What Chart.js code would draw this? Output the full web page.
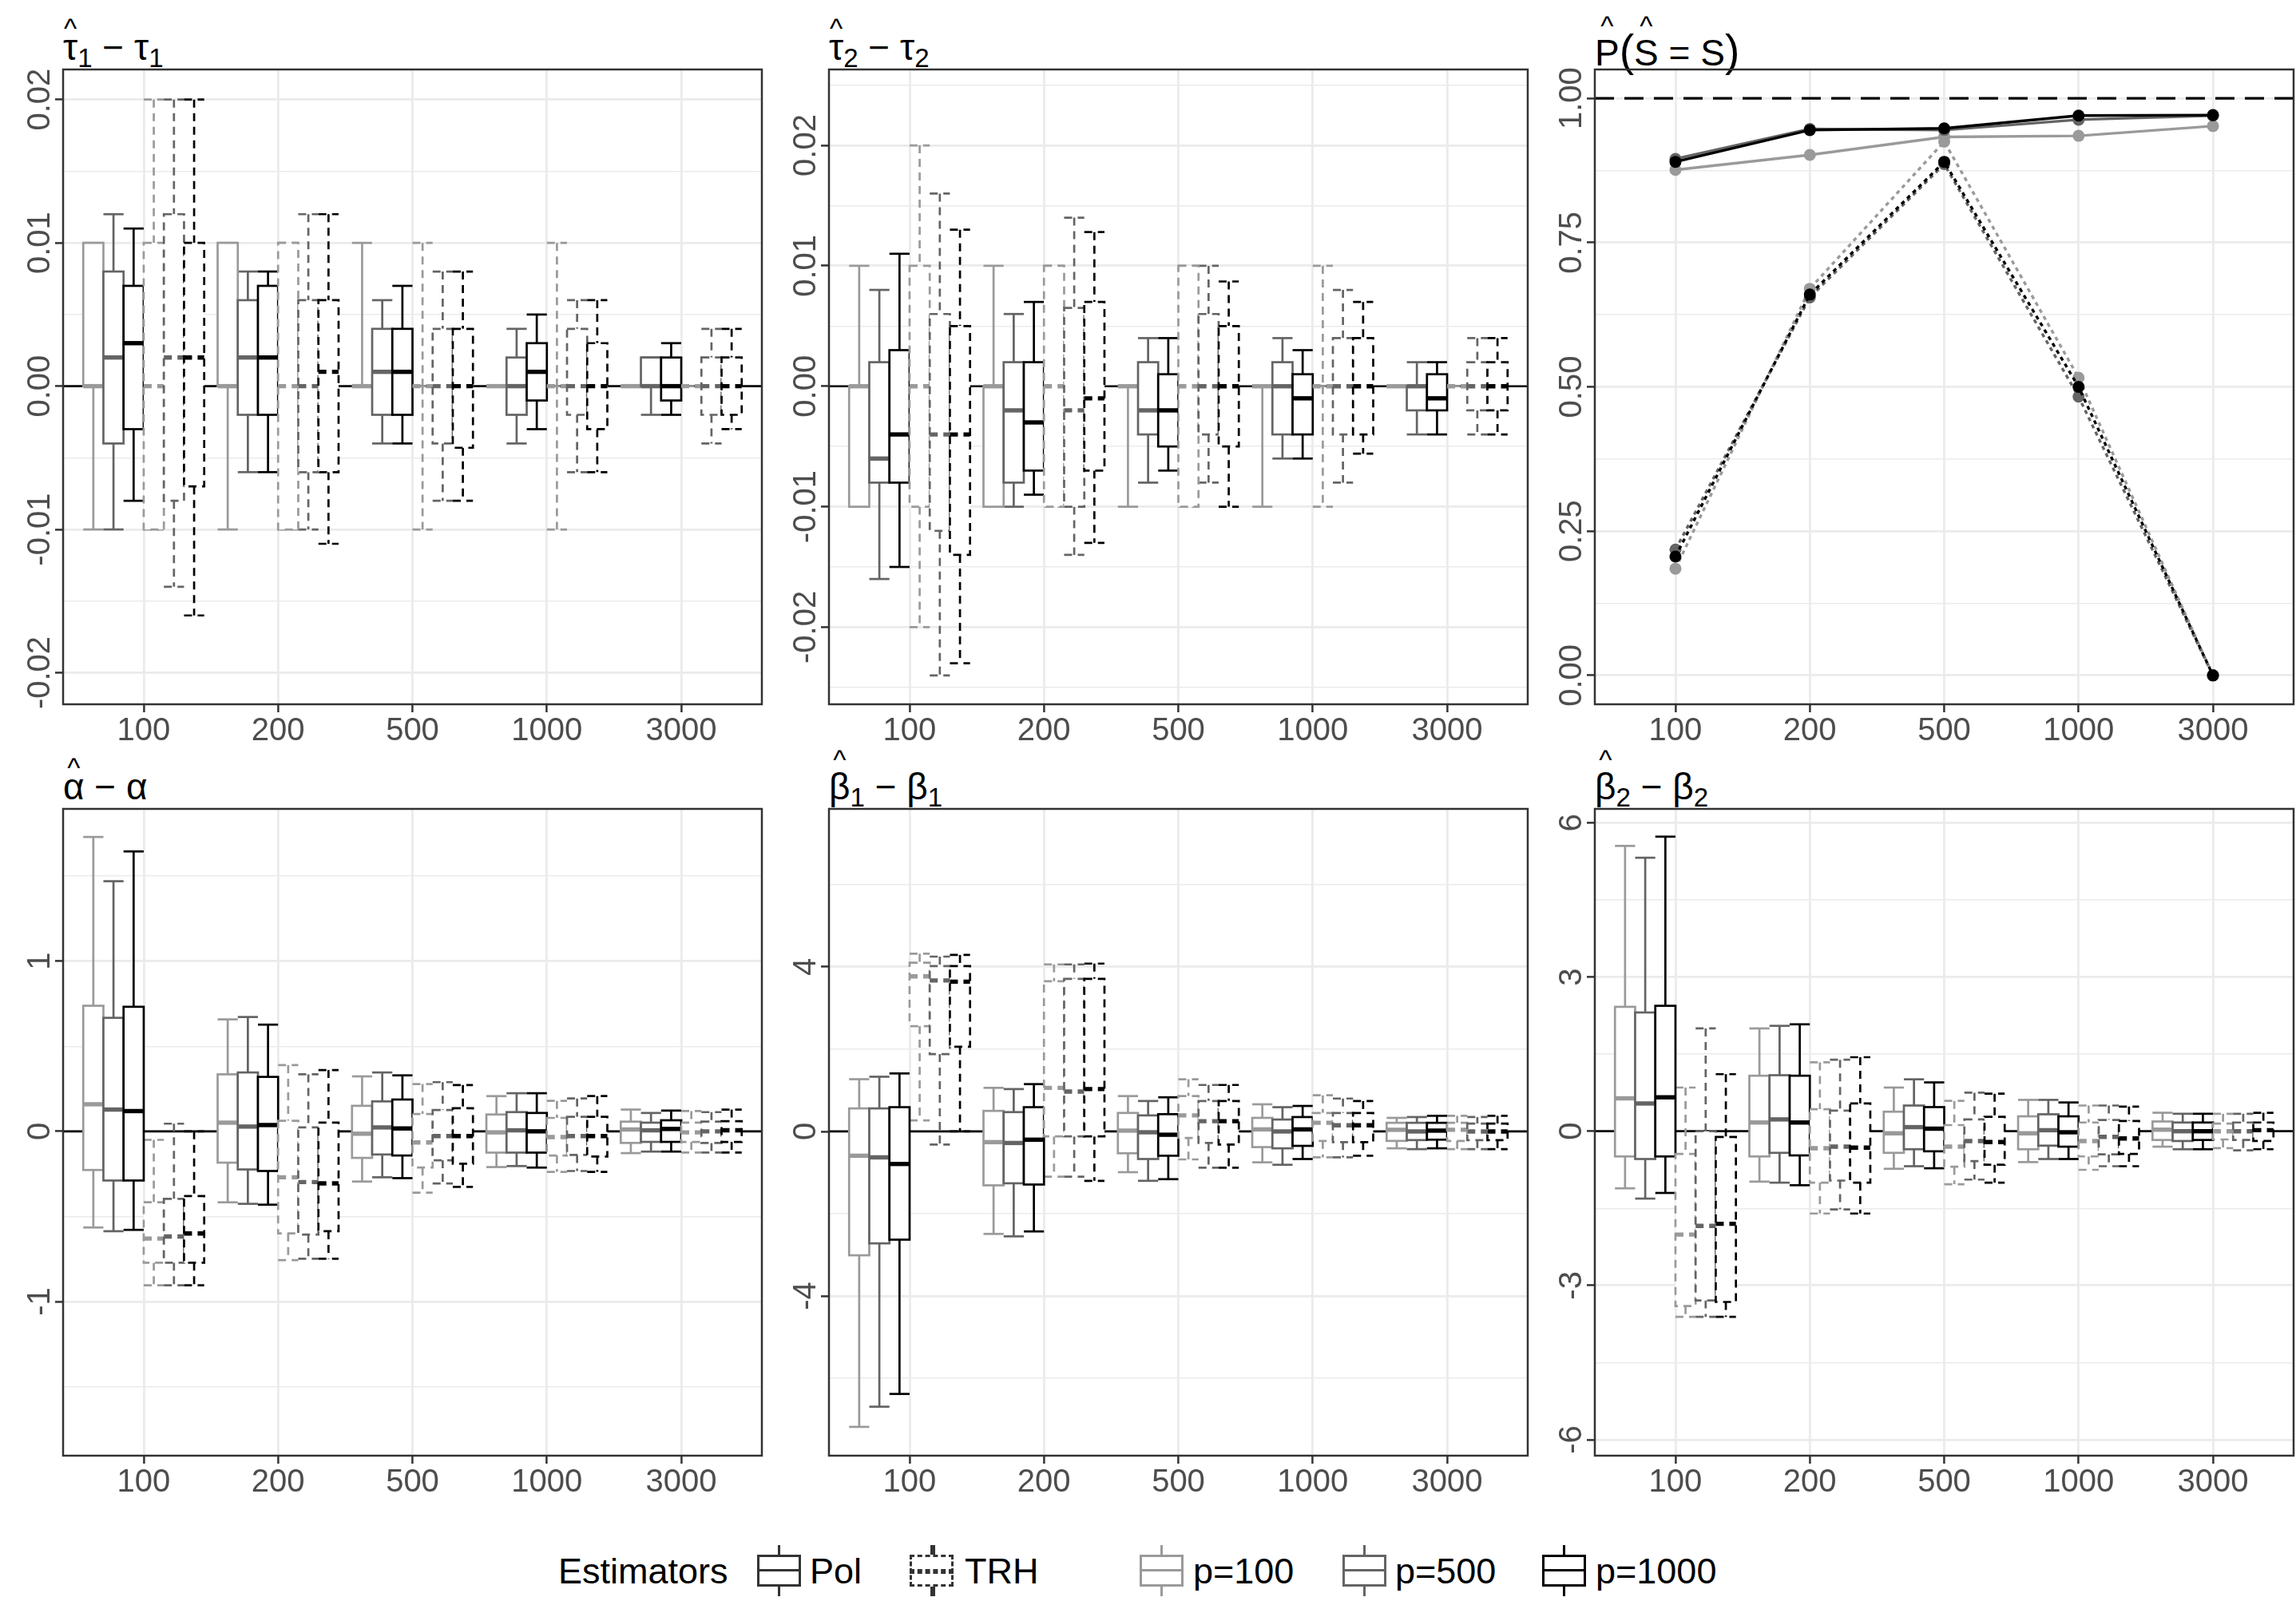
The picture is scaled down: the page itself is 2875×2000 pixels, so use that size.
<!DOCTYPE html>
<html>
<head>
<meta charset="utf-8">
<script src="https://cdn.jsdelivr.net/npm/chart.js@4.4.0/dist/chart.umd.min.js"></script>
<style>
  body { margin: 0; background: #fff; width: 2875px; height: 2000px; position: relative; overflow: hidden;
         font-family: "Liberation Sans", Arial, sans-serif; }
  canvas { position: absolute; }
  .ttl { position: absolute; font-size: 46px; line-height: 1; color: #000; white-space: nowrap; }
  .ttl sub { font-size: 0.72em; vertical-align: -0.28em; line-height: 0; }
  .hat { position: relative; display: inline-block; }
  .hat .cf { position: absolute; left: 0; right: 0; text-align: center; top: -0.5em; font-size: 0.75em; }
  .hat.tall .cf { top: -0.78em; }
  .big { font-size: 1.2em; font-weight: 300; }
  .lg { position: absolute; font-size: 45px; line-height: 44px; color: #000; white-space: nowrap; top: 1946px; }
  .key { position: absolute; top: 1935px; width: 55px; height: 64px; }
  .key div { position: absolute; box-sizing: border-box; }
  .key .wt { left: 26px; top: 0; width: 0; height: 12px; border-left: 3px solid; }
  .key .wb { left: 26px; top: 52px; width: 0; height: 12px; border-left: 3px solid; }
  .key .bx { left: 0; top: 12px; width: 55px; height: 40px; border: 3px solid; background: #fff; }
  .key .md { left: 0; top: 30px; width: 55px; height: 0; border-top: 3px solid; }
  .key.dash div { border-style: dashed; }
</style>
</head>
<body>

<div class="ttl" style="left:79px;top:36px"><span class="hat">τ<span class="cf">^</span></span><sub>1</sub> − τ<sub>1</sub></div>
<div class="ttl" style="left:1038px;top:36px"><span class="hat">τ<span class="cf">^</span></span><sub>2</sub> − τ<sub>2</sub></div>
<div class="ttl" style="left:1997px;top:36px"><span class="hat tall">P<span class="cf">^</span></span><span class="big">(</span><span class="hat tall">S<span class="cf">^</span></span> = S<span class="big">)</span></div>
<div class="ttl" style="left:79px;top:962px"><span class="hat">α<span class="cf">^</span></span> − α</div>
<div class="ttl" style="left:1038px;top:962px"><span class="hat tall">β<span class="cf">^</span></span><sub>1</sub> − β<sub>1</sub></div>
<div class="ttl" style="left:1997px;top:962px"><span class="hat tall">β<span class="cf">^</span></span><sub>2</sub> − β<sub>2</sub></div>

<canvas id="c1"></canvas>
<canvas id="c2"></canvas>
<canvas id="c3"></canvas>
<canvas id="c4"></canvas>
<canvas id="c5"></canvas>
<canvas id="c6"></canvas>

<div class="lg" style="left:699px">Estimators</div>
<div class="key" style="left:948px;color:#333"><div class="wt"></div><div class="bx"></div><div class="md"></div><div class="wb"></div></div>
<div class="lg" style="left:1014px">Pol</div>
<div class="key dash" style="left:1139px;color:#333"><div class="wt"></div><div class="bx"></div><div class="md"></div><div class="wb"></div></div>
<div class="lg" style="left:1208px">TRH</div>
<div class="key" style="left:1427px;color:#9a9a9a"><div class="wt"></div><div class="bx"></div><div class="md"></div><div class="wb"></div></div>
<div class="lg" style="left:1494px">p=100</div>
<div class="key" style="left:1681px;color:#646464"><div class="wt"></div><div class="bx"></div><div class="md"></div><div class="wb"></div></div>
<div class="lg" style="left:1747px">p=500</div>
<div class="key" style="left:1931px;color:#000"><div class="wt"></div><div class="bx"></div><div class="md"></div><div class="wb"></div></div>
<div class="lg" style="left:1998px">p=1000</div>

<script>
// sample sizes on the x axis
const nLabels = ['100', '200', '500', '1000', '3000'];
// series order: Pol p=100, Pol p=500, Pol p=1000, TRH p=100, TRH p=500, TRH p=1000
const estimator = ['Pol', 'Pol', 'Pol', 'TRH', 'TRH', 'TRH'];
const pLabel = ['p=100', 'p=500', 'p=1000', 'p=100', 'p=500', 'p=1000'];

// boxes: [lower whisker, Q1, median, Q3, upper whisker] for each n
const tau1Box = [
  [[-0.01, 0, 0, 0.01, 0.01], [-0.01, 0, 0, 0.01, 0.01], [0, 0, 0, 0, 0.01], [0, 0, 0, 0, 0], [0, 0, 0, 0, 0]],
  [[-0.01, -0.004, 0.002, 0.008, 0.012], [-0.006, -0.002, 0.002, 0.006, 0.008], [-0.004, -0.002, 0.001, 0.004, 0.006], [-0.004, -0.002, 0, 0.002, 0.004], [-0.002, 0, 0, 0.002, 0.002]],
  [[-0.008, -0.003, 0.003, 0.007, 0.011], [-0.006, -0.002, 0.002, 0.007, 0.008], [-0.004, -0.002, 0.001, 0.004, 0.007], [-0.003, -0.001, 0.001, 0.003, 0.005], [-0.002, -0.001, 0, 0.002, 0.003]],
  [[-0.01, -0.01, 0, 0.01, 0.02], [-0.01, -0.01, 0, 0.01, 0.01], [-0.01, 0, 0, 0, 0.01], [-0.01, 0, 0, 0, 0.01], [0, 0, 0, 0, 0]],
  [[-0.014, -0.008, 0.002, 0.012, 0.02], [-0.01, -0.006, 0, 0.006, 0.012], [-0.008, -0.004, 0, 0.004, 0.008], [-0.006, -0.002, 0, 0.004, 0.006], [-0.004, -0.002, 0, 0.002, 0.004]],
  [[-0.016, -0.007, 0.002, 0.01, 0.02], [-0.011, -0.006, 0.001, 0.006, 0.012], [-0.008, -0.0043, 0, 0.004, 0.008], [-0.006, -0.003, 0, 0.003, 0.006], [-0.003, -0.002, 0, 0.002, 0.004]]
];
const tau2Box = [
  [[-0.01, -0.01, 0, 0, 0.01], [-0.01, -0.01, 0, 0, 0.01], [-0.01, 0, 0, 0, 0], [-0.01, 0, 0, 0, 0], [0, 0, 0, 0, 0]],
  [[-0.016, -0.008, -0.006, 0.002, 0.008], [-0.01, -0.008, -0.002, 0.002, 0.006], [-0.008, -0.004, -0.002, 0.002, 0.004], [-0.006, -0.004, 0, 0.002, 0.004], [-0.004, -0.002, 0, 0, 0.002]],
  [[-0.015, -0.008, -0.004, 0.003, 0.011], [-0.009, -0.007, -0.003, 0.002, 0.007], [-0.007, -0.005, -0.002, 0.001, 0.004], [-0.006, -0.004, -0.001, 0.001, 0.003], [-0.004, -0.002, -0.001, 0.001, 0.002]],
  [[-0.02, -0.01, 0, 0.01, 0.02], [-0.01, -0.01, 0, 0.01, 0.01], [-0.01, -0.01, 0, 0.01, 0.01], [-0.01, 0, 0, 0, 0.01], [0, 0, 0, 0, 0]],
  [[-0.024, -0.012, -0.004, 0.006, 0.016], [-0.014, -0.01, -0.002, 0.0065, 0.014], [-0.008, -0.004, 0, 0.006, 0.01], [-0.008, -0.004, 0, 0.004, 0.008], [-0.004, -0.002, 0, 0.002, 0.004]],
  [[-0.023, -0.014, -0.004, 0.005, 0.013], [-0.013, -0.007, -0.001, 0.007, 0.0128], [-0.01, -0.005, 0, 0.005, 0.0087], [-0.0056, -0.004, 0, 0.004, 0.007], [-0.004, -0.002, 0, 0.002, 0.004]]
];
const alphaBox = [
  [[-0.565, -0.227, 0.159, 0.738, 1.73], [-0.417, -0.184, 0.051, 0.335, 0.658], [-0.295, -0.156, -0.014, 0.15, 0.323], [-0.21, -0.125, -0.006, 0.099, 0.207], [-0.128, -0.068, 0.011, 0.057, 0.128]],
  [[-0.587, -0.289, 0.128, 0.667, 1.47], [-0.426, -0.224, 0.028, 0.346, 0.672], [-0.27, -0.136, 0.023, 0.176, 0.346], [-0.204, -0.125, 0.006, 0.113, 0.224], [-0.119, -0.062, 0.006, 0.051, 0.108]],
  [[-0.579, -0.289, 0.119, 0.732, 1.645], [-0.431, -0.233, 0.037, 0.32, 0.627], [-0.275, -0.142, 0.017, 0.187, 0.329], [-0.213, -0.125, 0, 0.108, 0.224], [-0.119, -0.062, 0.014, 0.065, 0.122]],
  [[-0.905, -0.772, -0.63, -0.417, -0.05], [-0.757, -0.6, -0.27, 0.062, 0.389], [-0.36, -0.213, -0.065, 0.102, 0.278], [-0.238, -0.142, -0.034, 0.079, 0.179], [-0.125, -0.062, -0.006, 0.051, 0.119]],
  [[-0.905, -0.772, -0.618, -0.397, 0.045], [-0.749, -0.607, -0.298, 0.023, 0.335], [-0.306, -0.17, -0.028, 0.125, 0.289], [-0.233, -0.139, -0.028, 0.085, 0.193], [-0.125, -0.068, 0, 0.057, 0.113]],
  [[-0.905, -0.772, -0.6, -0.38, 0], [-0.749, -0.587, -0.306, 0.051, 0.36], [-0.326, -0.19, -0.028, 0.136, 0.272], [-0.238, -0.148, -0.028, 0.085, 0.207], [-0.125, -0.062, 0.006, 0.06, 0.128]]
];
const beta1Box = [
  [[-7.18, -3.01, -0.59, 0.56, 1.27], [-2.49, -1.31, -0.26, 0.5, 1.06], [-0.99, -0.53, 0.02, 0.45, 0.86], [-0.75, -0.38, 0.05, 0.33, 0.66], [-0.41, -0.23, 0.04, 0.21, 0.33]],
  [[-6.69, -2.72, -0.63, 0.56, 1.33], [-2.55, -1.26, -0.28, 0.47, 1.03], [-1.2, -0.67, -0.02, 0.39, 0.74], [-0.81, -0.41, 0, 0.29, 0.59], [-0.43, -0.21, 0, 0.21, 0.35]],
  [[-6.38, -2.63, -0.79, 0.59, 1.41], [-2.43, -1.29, -0.2, 0.59, 1.15], [-1.16, -0.59, -0.08, 0.42, 0.83], [-0.67, -0.35, 0.05, 0.35, 0.62], [-0.41, -0.2, 0.02, 0.21, 0.38]],
  [[0.27, 2.56, 3.77, 4.1, 4.32], [-1.1, -0.12, 1.06, 3.65, 4.06], [-0.68, -0.16, 0.39, 0.86, 1.27], [-0.63, -0.23, 0.21, 0.45, 0.88], [-0.43, -0.23, 0.04, 0.21, 0.38]],
  [[-0.32, 1.88, 3.67, 4.02, 4.25], [-1.1, -0.12, 0.97, 3.71, 4.06], [-0.88, -0.28, 0.25, 0.74, 1.13], [-0.63, -0.26, 0.15, 0.45, 0.8], [-0.43, -0.21, 0, 0.19, 0.35]],
  [[0, 2.06, 3.64, 4.02, 4.29], [-1.2, -0.12, 1.03, 3.71, 4.08], [-0.88, -0.32, 0.25, 0.74, 1.13], [-0.59, -0.26, 0.15, 0.45, 0.74], [-0.43, -0.21, 0, 0.19, 0.38]]
];
const beta2Box = [
  [[-1.11, -0.49, 0.64, 2.42, 5.55], [-0.98, -0.49, 0.17, 1.08, 2.0], [-0.73, -0.42, -0.04, 0.38, 0.85], [-0.6, -0.35, -0.04, 0.29, 0.61], [-0.3, -0.17, 0.03, 0.19, 0.36]],
  [[-1.31, -0.54, 0.54, 2.31, 5.32], [-1.0, -0.42, 0.23, 1.09, 2.05], [-0.68, -0.35, 0.08, 0.5, 1.01], [-0.54, -0.28, 0.02, 0.33, 0.61], [-0.35, -0.19, 0, 0.17, 0.34]],
  [[-1.2, -0.49, 0.66, 2.44, 5.73], [-1.05, -0.47, 0.17, 1.08, 2.08], [-0.72, -0.39, 0.05, 0.47, 0.95], [-0.54, -0.3, -0.02, 0.29, 0.56], [-0.35, -0.17, 0, 0.17, 0.34]],
  [[-3.61, -3.4, -2.01, -0.44, 0.85], [-1.6, -1.0, -0.33, 0.43, 1.34], [-1.03, -0.69, -0.3, 0.12, 0.59], [-0.75, -0.49, -0.19, 0.17, 0.5], [-0.33, -0.16, 0, 0.15, 0.34]],
  [[-3.61, -3.29, -1.84, 0, 2.0], [-1.52, -0.96, -0.3, 0.4, 1.39], [-0.94, -0.58, -0.19, 0.23, 0.75], [-0.68, -0.45, -0.11, 0.22, 0.5], [-0.37, -0.17, 0, 0.17, 0.34]],
  [[-3.61, -3.32, -1.8, -0.11, 1.11], [-1.6, -1.0, -0.32, 0.54, 1.44], [-1.0, -0.65, -0.21, 0.28, 0.73], [-0.68, -0.44, -0.14, 0.2, 0.48], [-0.35, -0.19, 0.02, 0.17, 0.36]]
];
// estimated probability of selecting the true model
const selectProb = [
  [0.876, 0.902, 0.933, 0.935, 0.952],
  [0.895, 0.947, 0.945, 0.963, 0.970],
  [0.890, 0.945, 0.948, 0.970, 0.971],
  [0.185, 0.670, 0.925, 0.516, 0],
  [0.218, 0.655, 0.886, 0.483, 0],
  [0.206, 0.660, 0.890, 0.500, 0]
];

// y tick values and labels
const tauTicks = [-0.02, -0.01, 0, 0.01, 0.02];
const tauTickLabels = ['-0.02', '-0.01', '0.00', '0.01', '0.02'];
const probTicks = [0, 0.25, 0.5, 0.75, 1];
const probTickLabels = ['0.00', '0.25', '0.50', '0.75', '1.00'];
const alphaTicks = [-1, 0, 1];
const alphaTickLabels = ['-1', '0', '1'];
const beta1Ticks = [-4, 0, 4];
const beta1TickLabels = ['-4', '0', '4'];
const beta2Ticks = [-6, -3, 0, 3, 6];
const beta2TickLabels = ['-6', '-3', '0', '3', '6'];

const greys = ['#9a9a9a', '#646464', '#000000'];
const DASH = [10, 7];
const deco = {};

function seg(ctx, x1, y1, x2, y2) {
  ctx.beginPath(); ctx.moveTo(x1, y1); ctx.lineTo(x2, y2); ctx.stroke();
}

function drawBoxes(chart) {
  const { ctx, chartArea: a } = chart;
  const ys = chart.scales.y;
  const Y = v => ys.getPixelForValue(v);
  ctx.save();
  ctx.beginPath(); ctx.rect(a.left, a.top, a.width, a.height); ctx.clip();
  ctx.lineCap = 'butt';
  // whiskers and caps first
  chart.data.datasets.forEach((ds, di) => {
    chart.getDatasetMeta(di).data.forEach((bar, i) => {
      const f = ds.five[i], x = bar.x, hw = bar.width / 2;
      ctx.strokeStyle = ds.lineCol; ctx.lineWidth = 2.7;
      ctx.setLineDash(ds.dashed ? DASH : []);
      seg(ctx, x, Y(f[4]), x, Y(f[3]));
      seg(ctx, x, Y(f[1]), x, Y(f[0]));
      seg(ctx, x - hw, Y(f[4]), x + hw, Y(f[4]));
      seg(ctx, x - hw, Y(f[0]), x + hw, Y(f[0]));
    });
  });
  // then the boxes with medians
  chart.data.datasets.forEach((ds, di) => {
    chart.getDatasetMeta(di).data.forEach((bar, i) => {
      const f = ds.five[i], x = bar.x, hw = bar.width / 2;
      const top = Y(f[3]), bot = Y(f[1]);
      ctx.fillStyle = '#fff';
      ctx.fillRect(x - hw, top, 2 * hw, bot - top);
      ctx.strokeStyle = ds.lineCol; ctx.lineWidth = 2.7;
      ctx.setLineDash(ds.dashed ? DASH : []);
      ctx.strokeRect(x - hw, top, 2 * hw, bot - top);
      ctx.lineWidth = 5.4;
      seg(ctx, x - hw, Y(f[2]), x + hw, Y(f[2]));
    });
  });
  ctx.restore();
}

const panelPlugin = {
  id: 'panelDeco',
  beforeDatasetsDraw(chart) {
    const d = deco[chart.canvas.id];
    const { ctx, chartArea: a } = chart;
    ctx.save();
    d.hlines.forEach(h => {
      const py = chart.scales.y.getPixelForValue(h.v);
      ctx.strokeStyle = '#000'; ctx.lineWidth = h.w; ctx.setLineDash(h.dash);
      seg(ctx, a.left, py, a.right, py);
    });
    ctx.restore();
  },
  afterDatasetsDraw(chart) {
    if (deco[chart.canvas.id].box) drawBoxes(chart);
  },
  afterDraw(chart) {
    const d = deco[chart.canvas.id];
    const { ctx, chartArea: a } = chart;
    ctx.save();
    ctx.strokeStyle = '#333'; ctx.lineWidth = 2.5; ctx.setLineDash([]);
    ctx.strokeRect(a.left, a.top, a.width, a.height);
    ctx.fillStyle = '#4d4d4d';
    ctx.font = '40px "Liberation Sans", Arial, sans-serif';
    ctx.textAlign = 'center'; ctx.textBaseline = 'alphabetic';
    d.ticks.forEach((v, i) => {
      const py = chart.scales.y.getPixelForValue(v);
      ctx.save();
      ctx.translate(a.left - 17, py);
      ctx.rotate(-Math.PI / 2);
      ctx.fillText(d.labels[i], 0, 0);
      ctx.restore();
    });
    ctx.restore();
  }
};

function axes(yMin, yMax, ticks) {
  const step = ticks[1] - ticks[0];
  const all = ticks.slice();
  for (let v = ticks[0] - step / 2; v <= yMax; v += step) {
    const r = Math.round(v * 1e6) / 1e6;
    if (r >= yMin) all.push(r);
  }
  all.sort((p, q) => p - q);
  const major = new Set(ticks.map(v => v.toFixed(6)));
  const isMajor = c => c.tick && major.has(c.tick.value.toFixed(6));
  return {
    x: {
      type: 'linear', min: 0.4, max: 5.6, offset: false,
      afterBuildTicks: s => { s.ticks = nLabels.map((l, i) => ({ value: i + 1 })); },
      afterFit: s => { s.height = 70; },
      ticks: {
        autoSkip: false, maxRotation: 0, padding: 0, color: '#4d4d4d',
        font: { size: 40, family: '"Liberation Sans", Arial, sans-serif' },
        callback: (v, i) => nLabels[i]
      },
      grid: { offset: false, color: '#ebebeb', lineWidth: 2.8, tickLength: 10, tickColor: '#333', tickWidth: 2.5 },
      border: { display: false }
    },
    y: {
      type: 'linear', min: yMin, max: yMax,
      afterBuildTicks: s => { s.ticks = all.map(v => ({ value: v })); },
      afterFit: s => { s.width = 80; },
      ticks: { display: false },
      grid: {
        color: '#ebebeb',
        lineWidth: c => isMajor(c) ? 2.8 : 1.4,
        tickLength: 10, tickWidth: 2.5,
        tickColor: c => isMajor(c) ? '#333' : 'rgba(0,0,0,0)'
      },
      border: { display: false }
    }
  };
}

function place(id, L, T, W, H) {
  const c = document.getElementById(id);
  c.width = W + 88; c.height = H + 82;
  c.style.left = (L - 80) + 'px'; c.style.top = (T - 12) + 'px';
  c.style.width = c.width + 'px'; c.style.height = c.height + 'px';
  return c;
}

function boxPanel(id, L, T, W, H, boxes, yMin, yMax, ticks, labels) {
  const c = place(id, L, T, W, H);
  deco[id] = { box: true, ticks, labels, hlines: [{ v: 0, w: 2.7, dash: [] }] };
  new Chart(c, {
    type: 'bar',
    data: {
      datasets: boxes.map((ser, s) => ({
        label: estimator[s] + ' ' + pLabel[s],
        data: ser.map((b, i) => ({ x: i + 1, y: [b[1], b[3]] })),
        five: ser,
        lineCol: greys[s % 3],
        dashed: s >= 3,
        backgroundColor: 'rgba(0,0,0,0)',
        borderWidth: 0,
        categoryPercentage: 0.9,
        barPercentage: 1
      }))
    },
    options: {
      responsive: false, animation: false, devicePixelRatio: 1,
      layout: { padding: { left: 0, top: 12, right: 8, bottom: 0 } },
      plugins: { legend: { display: false }, tooltip: { enabled: false } },
      scales: axes(yMin, yMax, ticks)
    },
    plugins: [panelPlugin]
  });
}

function probPanel(id, L, T, W, H) {
  const c = place(id, L, T, W, H);
  deco[id] = { box: false, ticks: probTicks, labels: probTickLabels, hlines: [{ v: 1, w: 3.2, dash: [24, 13] }] };
  new Chart(c, {
    type: 'line',
    data: {
      datasets: selectProb.map((vals, s) => ({
        label: estimator[s] + ' ' + pLabel[s],
        data: vals.map((v, i) => ({ x: i + 1, y: v })),
        order: selectProb.length - s,   // later series drawn on top, as in the original
        borderColor: greys[s % 3],
        backgroundColor: greys[s % 3],
        pointBackgroundColor: greys[s % 3],
        borderWidth: 3.4,
        borderDash: s >= 3 ? [5, 5] : [],
        pointRadius: 7.5, pointBorderWidth: 0,
        tension: 0, fill: false
      }))
    },
    options: {
      responsive: false, animation: false, devicePixelRatio: 1,
      layout: { padding: { left: 0, top: 12, right: 8, bottom: 0 } },
      plugins: { legend: { display: false }, tooltip: { enabled: false } },
      scales: axes(-0.05, 1.05, probTicks)
    },
    plugins: [panelPlugin]
  });
}

const colL = [79, 1038, 1997], W = 875;
boxPanel('c1', colL[0], 87, W, 795, tau1Box, -0.0222, 0.0221, tauTicks, tauTickLabels);
boxPanel('c2', colL[1], 87, W, 795, tau2Box, -0.0264, 0.0263, tauTicks, tauTickLabels);
probPanel('c3', colL[2], 87, W, 795);
boxPanel('c4', colL[0], 1013, W, 810, alphaBox, -1.906, 1.895, alphaTicks, alphaTickLabels);
boxPanel('c5', colL[1], 1013, W, 810, beta1Box, -7.88, 7.84, beta1Ticks, beta1TickLabels);
boxPanel('c6', colL[2], 1013, W, 810, beta2Box, -6.31, 6.27, beta2Ticks, beta2TickLabels);
</script>
</body>
</html>
